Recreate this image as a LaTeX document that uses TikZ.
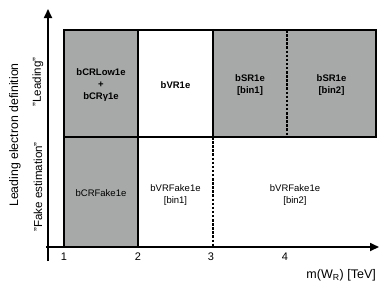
\documentclass[tikz,border=0pt]{standalone}
\usepackage{fontspec}
\setmainfont{Liberation Sans}
\usetikzlibrary{arrows.meta}
\definecolor{cellgray}{RGB}{167,169,168}
\begin{document}
\begin{tikzpicture}[x=1pt,y=-1pt,
  cellfill/.style={fill=cellgray, draw=none, inner sep=0pt},
  boxline/.style={line width=1.3pt},
  dashline/.style={line width=1.3pt, dash pattern=on 2.5pt off 1.6pt},
  axisline/.style={line width=1.7pt, -{Triangle[length=9pt,width=8pt]}},
  celltext/.style={font=\fontsize{9.5}{12}\selectfont, align=center, inner sep=0pt},
  boldtext/.style={celltext, font=\fontsize{9.5}{12}\selectfont\bfseries},
  ticklabel/.style={font=\fontsize{11}{13}\selectfont, inner sep=0pt},
  sidelabel/.style={font=\fontsize{11.6}{13}\selectfont, rotate=90, inner sep=0pt}
]
\useasboundingbox (0,0) rectangle (390,293);
% filled cells
\node[cellfill, minimum width=74pt, minimum height=107pt] (c1) at (101,83.5) {};
\node[cellfill, minimum width=163pt, minimum height=107pt] (c3) at (294.5,83.5) {};
\node[cellfill, minimum width=74pt, minimum height=110pt] (f1) at (101,192) {};
% corners
\coordinate (tl) at (64,30);
\coordinate (br) at (376,137);
\coordinate (m2t) at (138,30);
\coordinate (m2b) at (138,247);
\coordinate (m3t) at (213,30);
\coordinate (m3m) at (213,137);
\coordinate (m3b) at (213,247);
\coordinate (m4t) at (287,30);
\coordinate (m4m) at (287,137);
\coordinate (l1m) at (64,137);
\coordinate (l1b) at (64,247);
% lines
\draw[boxline] (tl) rectangle (br);
\draw[boxline] (m2t) -- (m2b);
\draw[boxline] (m3t) -- (m3m);
\draw[boxline] (l1m) -- (l1b);
\draw[dashline] (m4t) -- (m4m);
\draw[dashline] (m3m) -- (m3b);
% axes
\coordinate (yo) at (48,261);
\coordinate (yt) at (48,9);
\coordinate (xo) at (46,247);
\coordinate (xt) at (379,247);
\draw[axisline] (yo) -- (yt);
\draw[axisline] (xo) -- (xt);
% cell texts
\node[boldtext] (t1) at (101,85) {bCRLow1e\\+\\bCRγ1e};
\node[boldtext] (t2) at (175.5,85) {bVR1e};
\node[boldtext] (t3) at (250,85) {bSR1e\\{}[bin1]};
\node[boldtext] (t4) at (331.5,85) {bSR1e\\{}[bin2]};
\node[celltext] (b1) at (101,193) {bCRFake1e};
\node[celltext] (b2) at (175.5,195) {bVRFake1e\\{}[bin1]};
\node[celltext] (b3) at (295,195) {bVRFake1e\\{}[bin2]};
% ticks
\node[ticklabel] (k1) at (64,257) {1};
\node[ticklabel] (k2) at (138,257) {2};
\node[ticklabel] (k3) at (211,257) {3};
\node[ticklabel] (k4) at (285,257) {4};
\node[font=\fontsize{12.5}{14}\selectfont, inner sep=0pt, anchor=east] (xl) at (376,275) {m(W\textsubscript{R}) [TeV]};
% side labels
\node[font=\fontsize{12.3}{14}\selectfont, rotate=90, inner sep=0pt] (yl) at (15,135) {Leading electron definition};
\node[sidelabel] (s1) at (38,82) {"Leading"};
\node[sidelabel] (s2) at (38,187) {"Fake estimation"};
\end{tikzpicture}
\end{document}
